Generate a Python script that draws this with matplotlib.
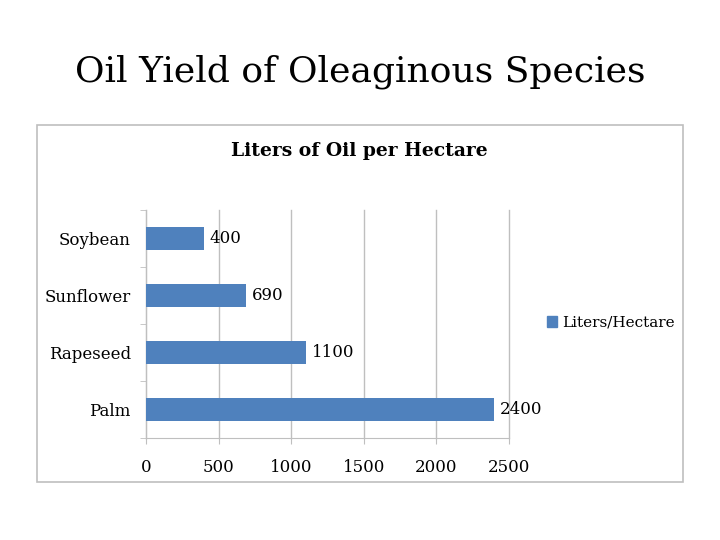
import matplotlib.pyplot as plt
from matplotlib.patches import Rectangle, Patch

species = ["Palm", "Rapeseed", "Sunflower", "Soybean"]
liters = [2400, 1100, 690, 400]
xticks = [0, 500, 1000, 1500, 2000, 2500]

serif = ["DejaVu Serif"]
bar_color = "#4F81BD"
grid_color = "#BFBFBF"

fig = plt.figure(figsize=(7.2, 5.4), dpi=100)

# slide title
fig.text(360 / 720, 1 - 72 / 540, "Oil Yield of Oleaginous Species", ha="center", va="center",
         fontsize=26, family=serif)

# chart frame
fig.patches.append(Rectangle((37 / 720, 1 - 482 / 540), 646 / 720, 357 / 540,
                             transform=fig.transFigure, fill=False,
                             edgecolor=grid_color, linewidth=1.2))

fig.text(359 / 720, 1 - 151 / 540, "Liters of Oil per Hectare", ha="center", va="center",
         fontsize=13.5, fontweight="bold", family=serif)

ax = fig.add_axes([146 / 720, 1 - 438 / 540, 363 / 720, 228 / 540])
ypos = list(range(len(species)))
bars = ax.barh(ypos, liters, height=0.4, color=bar_color, zorder=3)

ax.set_xlim(0, 2500)
ax.set_ylim(-0.5, len(species) - 0.5)
ax.set_xticks(xticks)
ax.set_xticklabels([str(t) for t in xticks], family=serif, fontsize=12)
ax.set_yticks(ypos)
ax.set_yticklabels(species, family=serif, fontsize=12)
ax.tick_params(axis="y", length=0, pad=11)
ax.tick_params(axis="x", length=4, color=grid_color, pad=11)
ax.set_yticks([y + 0.5 for y in [-1] + ypos], minor=True)
ax.tick_params(axis="y", which="minor", length=4, color=grid_color)

ax.grid(axis="x", color=grid_color, linewidth=1, zorder=0)
for gl in ax.get_xgridlines():
    gl.set_clip_on(False)
for side in ["top", "right"]:
    ax.spines[side].set_visible(False)
for side in ["left", "bottom"]:
    ax.spines[side].set_color(grid_color)

for b, v in zip(bars, liters):
    ax.text(v + 40, b.get_y() + b.get_height() / 2, str(v), va="center", ha="left",
            fontsize=12, family=serif)

fig.legend(handles=[Patch(color=bar_color, label="Liters/Hectare")],
           loc="center left", bbox_to_anchor=(533 / 720, 1 - 323 / 540),
           frameon=False, handlelength=0.7, handleheight=0.7, handletextpad=0.3,
           prop={"family": serif, "size": 11})

fig.savefig("out.png", dpi=100)
